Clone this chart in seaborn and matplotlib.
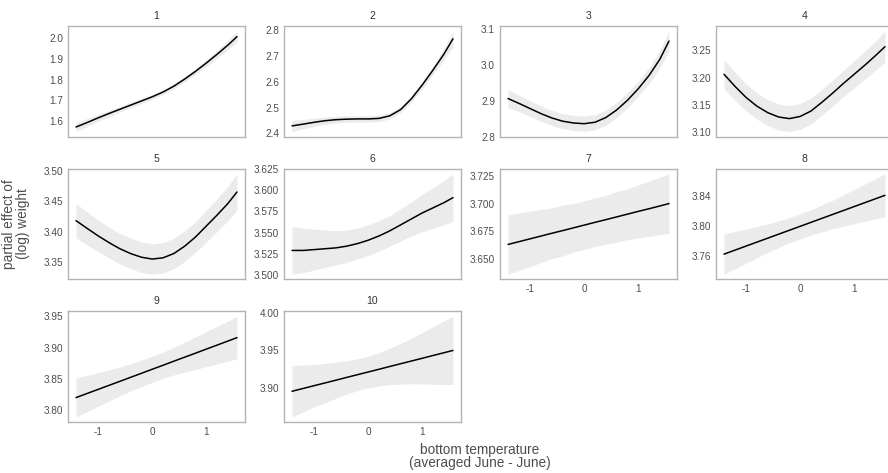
import numpy as np
import pandas as pd
import matplotlib
matplotlib.use("Agg")
import matplotlib.pyplot as plt
import seaborn as sns

temp = [-1.41, -1.2, -1.0, -0.8, -0.6, -0.4, -0.2, 0.0, 0.2, 0.4, 0.6, 0.8, 1.0, 1.2, 1.4, 1.57]

ages = [1, 2, 3, 4, 5, 6, 7, 8, 9, 10]

# partial effect (fit) and standard error per age panel
fit_1 = [1.572, 1.594, 1.616, 1.637, 1.657, 1.677, 1.697, 1.717, 1.740, 1.768, 1.802, 1.839, 1.879, 1.921, 1.965, 2.006]
se_1 = [0.022, 0.019, 0.017, 0.015, 0.014, 0.013, 0.012, 0.012, 0.012, 0.012, 0.013, 0.014, 0.016, 0.018, 0.022, 0.027]
fit_2 = [2.429, 2.436, 2.443, 2.449, 2.453, 2.455, 2.456, 2.456, 2.458, 2.468, 2.492, 2.534, 2.587, 2.645, 2.706, 2.766]
se_2 = [0.022, 0.018, 0.016, 0.014, 0.013, 0.012, 0.012, 0.012, 0.012, 0.012, 0.012, 0.013, 0.014, 0.017, 0.022, 0.030]
fit_3 = [2.906, 2.892, 2.878, 2.864, 2.852, 2.843, 2.838, 2.836, 2.840, 2.853, 2.874, 2.901, 2.933, 2.970, 3.015, 3.066]
se_3 = [0.025, 0.023, 0.022, 0.021, 0.021, 0.021, 0.021, 0.021, 0.021, 0.021, 0.021, 0.021, 0.021, 0.022, 0.024, 0.028]
fit_4 = [3.206, 3.183, 3.163, 3.147, 3.135, 3.127, 3.124, 3.128, 3.138, 3.154, 3.171, 3.189, 3.206, 3.223, 3.241, 3.257]
se_4 = [0.027, 0.026, 0.025, 0.024, 0.024, 0.024, 0.024, 0.024, 0.024, 0.024, 0.024, 0.024, 0.025, 0.026, 0.027, 0.029]
fit_5 = [3.418, 3.405, 3.393, 3.382, 3.372, 3.364, 3.358, 3.355, 3.357, 3.364, 3.376, 3.391, 3.409, 3.427, 3.446, 3.465]
se_5 = [0.028, 0.027, 0.026, 0.025, 0.025, 0.025, 0.025, 0.025, 0.025, 0.025, 0.025, 0.025, 0.026, 0.027, 0.028, 0.030]
fit_6 = [3.529, 3.529, 3.530, 3.531, 3.532, 3.534, 3.537, 3.541, 3.546, 3.552, 3.559, 3.566, 3.573, 3.579, 3.585, 3.591]
se_6 = [0.028, 0.026, 0.024, 0.022, 0.020, 0.019, 0.018, 0.018, 0.018, 0.018, 0.019, 0.020, 0.022, 0.024, 0.026, 0.028]
fit_7 = [3.663, 3.6656, 3.6681, 3.6706, 3.6731, 3.6755, 3.678, 3.6805, 3.683, 3.6854, 3.6879, 3.6904, 3.6929, 3.6953, 3.6978, 3.700]
se_7 = [0.027, 0.026, 0.025, 0.024, 0.023, 0.023, 0.022, 0.022, 0.022, 0.022, 0.023, 0.023, 0.024, 0.025, 0.026, 0.027]
fit_8 = [3.762, 3.7676, 3.7729, 3.7782, 3.7835, 3.7888, 3.7941, 3.7994, 3.8047, 3.810, 3.8153, 3.8206, 3.8259, 3.8312, 3.8365, 3.841]
se_8 = [0.027, 0.025, 0.023, 0.021, 0.019, 0.018, 0.017, 0.017, 0.017, 0.018, 0.019, 0.021, 0.023, 0.025, 0.027, 0.029]
fit_9 = [3.820, 3.8268, 3.8332, 3.8396, 3.846, 3.8525, 3.8589, 3.8654, 3.8718, 3.8783, 3.8847, 3.8911, 3.8976, 3.904, 3.9105, 3.916]
se_9 = [0.031, 0.029, 0.027, 0.025, 0.023, 0.022, 0.021, 0.021, 0.021, 0.022, 0.024, 0.026, 0.028, 0.030, 0.032, 0.034]
fit_10 = [3.896, 3.8998, 3.9034, 3.907, 3.9106, 3.9143, 3.9179, 3.9215, 3.9251, 3.9288, 3.9324, 3.936, 3.9396, 3.9433, 3.9469, 3.950]
se_10 = [0.034, 0.031, 0.028, 0.026, 0.024, 0.022, 0.021, 0.021, 0.022, 0.024, 0.027, 0.030, 0.034, 0.038, 0.042, 0.045]

fits = [fit_1, fit_2, fit_3, fit_4, fit_5, fit_6, fit_7, fit_8, fit_9, fit_10]
ses = [se_1, se_2, se_3, se_4, se_5, se_6, se_7, se_8, se_9, se_10]

# y tick positions per panel
yticks = [
    [1.6, 1.7, 1.8, 1.9, 2.0],
    [2.4, 2.5, 2.6, 2.7, 2.8],
    [2.8, 2.9, 3.0, 3.1],
    [3.10, 3.15, 3.20, 3.25],
    [3.35, 3.40, 3.45, 3.50],
    [3.500, 3.525, 3.550, 3.575, 3.600, 3.625],
    [3.650, 3.675, 3.700, 3.725],
    [3.76, 3.80, 3.84],
    [3.80, 3.85, 3.90, 3.95],
    [3.90, 3.95, 4.00],
]

rows = []
for age, f, s in zip(ages, fits, ses):
    for t, v, e in zip(temp, f, s):
        rows.append({"age": age, "temp": t, "fit": v, "lo": v - e, "hi": v + e})
df = pd.DataFrame(rows)

sns.set_style("white")
plt.rcParams["font.family"] = ["Liberation Sans", "DejaVu Sans"]
plt.rcParams["axes.formatter.useoffset"] = False
plt.rcParams["axes.unicode_minus"] = False

grey_txt = "#4d4d4d"
border = "#b3b3b3"


def draw_smooth(data, **kws):
    ax = plt.gca()
    ax.fill_between(data["temp"], data["lo"], data["hi"], color="#ebebeb", lw=0)
    sns.lineplot(data=data, x="temp", y="fit", ax=ax, color="black", lw=1.1,
                 estimator=None, sort=False)
    # ggplot-style 5% expansion of the y range
    lo, hi = data["lo"].min(), data["hi"].max()
    pad = (hi - lo) * 0.05
    ax.set_ylim(lo - pad, hi + pad)


g = sns.FacetGrid(df, col="age", col_wrap=4, sharey=False, sharex=True,
                  height=1.5, aspect=1.4, despine=False)
g.map_dataframe(draw_smooth)
g.set_titles("{col_name}", size=7.5, color="#333333", pad=5)
g.set_axis_labels("", "")

xr = max(temp) - min(temp)
for ax, yt in zip(g.axes.flat, yticks):
    ax.set_xlim(min(temp) - 0.05 * xr, max(temp) + 0.05 * xr)
    ax.set_xticks([-1, 0, 1])
    ax.set_yticks(yt)
    ax.tick_params(labelsize=7.2, colors=grey_txt, length=2, width=0.6,
                   pad=1.5, color="#888888")
    for sp in ax.spines.values():
        sp.set_color(border)
        sp.set_linewidth(1.0)

fig = g.figure
fig.set_size_inches(8.88, 4.73)
fig.subplots_adjust(left=68 / 888, right=893 / 888, top=1 - 26 / 473,
                    bottom=1 - 422 / 473, wspace=0.22, hspace=0.29)

fig.text(16 / 888, 1 - 224 / 473, "partial effect of\n(log) weight", rotation=90,
         ha="center", va="center", fontsize=9.8, color=grey_txt, linespacing=0.95)
fig.text(480 / 888, 1 - 443 / 473, "bottom temperature\n(averaged June - June)",
         ha="center", va="top", fontsize=9.8, color=grey_txt, linespacing=0.95)

fig.savefig("out.png", dpi=100)
